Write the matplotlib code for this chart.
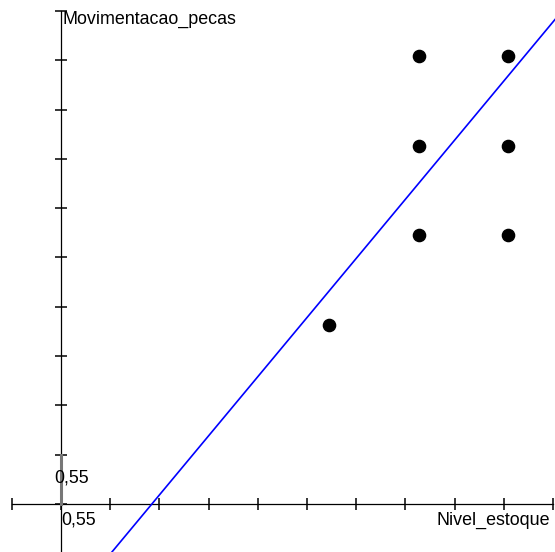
import matplotlib
matplotlib.use("Agg")
import matplotlib.pyplot as plt
import numpy as np

# data (Likert-like scores)
nivel_estoque = [3, 4, 4, 4, 5, 5, 5]
movimentacao_pecas = [2, 5, 4, 3, 5, 4, 3]

# fitted line as drawn
slope = 1.2
intercept = -1.22

step = 0.55          # tick spacing on both axes
n_ticks = 10
x_label = "Nivel_estoque"
y_label = "Movimentacao_pecas"
tick_text = "0,55"

plt.rcParams['font.family'] = ['Liberation Sans', 'DejaVu Sans']

fig = plt.figure(figsize=(5.55, 5.52), dpi=100)
ax = fig.add_axes([0, 0, 1, 1])
ax.set_xlim(-0.682, 5.522)
ax.set_ylim(-0.537, 5.624)
ax.axis('off')

# axes drawn by hand, crossing at 0
xt = np.arange(-1, n_ticks + 1) * step
yt = np.arange(0, n_ticks + 1) * step
ax.plot([xt[0], xt[-1]], [0, 0], color='black', lw=0.9, zorder=2)
ax.plot([0, 0], [-0.537, yt[-1]], color='black', lw=0.9, zorder=2)
ax.plot(xt, np.zeros_like(xt), ls='none', marker='|', ms=8, mew=1.1, color='black')
ax.plot(np.zeros_like(yt), yt, ls='none', marker='_', ms=8, mew=1.1, color='black')
ax.plot([0, 0], [0, step], color='#777777', lw=2.2, zorder=3)

# regression line
xl = np.array([-0.682, 5.522])
ax.plot(xl, intercept + slope * xl, color='#0000ff', lw=1.2, zorder=4)

# points
ax.plot(nivel_estoque, movimentacao_pecas, ls='none', marker='o', ms=8.8,
        color='black', zorder=5)

# labels
ax.text(-0.075, step * 0.52, tick_text, fontsize=12.9, va='center', ha='left')
ax.text(0.0, -0.18, tick_text, fontsize=12.9, va='center', ha='left')
ax.text(5.47, -0.18, x_label, fontsize=12.9, va='center', ha='right')
ax.text(0.02, 5.41, y_label, fontsize=12.9, va='center', ha='left')

fig.savefig("out.png", dpi=100)
